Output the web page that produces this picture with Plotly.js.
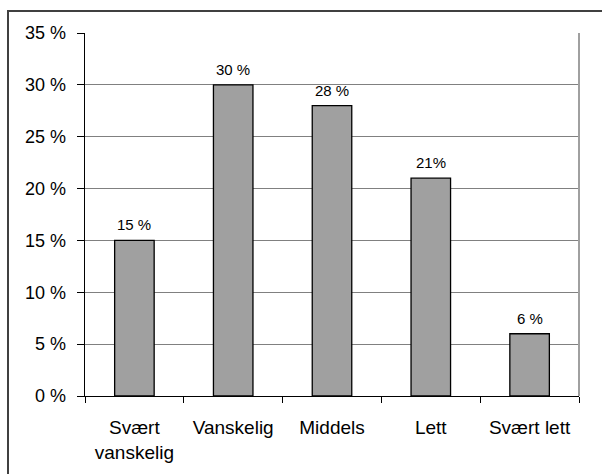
<!DOCTYPE html>
<html>
<head>
<meta charset="utf-8">
<script src="https://cdn.plot.ly/plotly-3.0.1.min.js"></script>
<style>
html,body{margin:0;padding:0;background:#fff;}
#chart{width:593px;height:462px;margin-left:7px;margin-top:10px;border-left:2px solid #404040;border-top:2px solid #404040;box-sizing:content-box;}
</style>
</head>
<body>
<div id="chart"></div>
<script>
const categories = ["Svært<br>vanskelig", "Vanskelig", "Middels", "Lett", "Svært lett"];
const values = [15, 30, 28, 21, 6];
const valueLabels = ["15 %", "30 %", "28 %", "21%", "6 %"];
const yTicks = [0, 5, 10, 15, 20, 25, 30, 35];
const yTickLabels = ["0 %", "5 %", "10 %", "15 %", "20 %", "25 %", "30 %", "35 %"];

const font = "Liberation Sans, Arial, sans-serif";

const trace = {
  type: "bar",
  x: categories,
  y: values,
  marker: {color: "#a0a0a0", line: {color: "#000", width: 1.3}},
  hoverinfo: "none"
};

const annotations = categories.map((c, i) => ({
  x: c, y: values[i], xref: "x", yref: "y",
  text: valueLabels[i], showarrow: false,
  yanchor: "bottom", yshift: 5,
  font: {family: font, size: 15, color: "#000"}
}));

const layout = {
  width: 593, height: 462,
  margin: {l: 76, r: 23, t: 21, b: 78},
  paper_bgcolor: "#fff", plot_bgcolor: "#fff",
  showlegend: false,
  bargap: 0.6,
  font: {family: font, size: 18, color: "#000"},
  annotations: annotations,
  xaxis: {
    type: "category",
    showline: true, linecolor: "#000", linewidth: 1.3,
    ticks: "outside", tickson: "boundaries", ticklen: 6, tickcolor: "#000", tickwidth: 1,
    showgrid: false,
    tickfont: {family: font, size: 19, color: "#000"},
    ticklabelstandoff: 14
  },
  yaxis: {
    range: [0, 35],
    tickvals: yTicks, ticktext: yTickLabels,
    showline: true, linecolor: "#000", linewidth: 1.3,
    ticks: "outside", ticklen: 7, tickcolor: "#000", tickwidth: 1,
    showgrid: true, gridcolor: "#808080", gridwidth: 1,
    zeroline: false,
    tickfont: {family: font, size: 18, color: "#000"},
    ticklabelstandoff: 7
  },
  shapes: [
    {type: "line", xref: "paper", yref: "paper", x0: 1, x1: 1, y0: 0, y1: 1, line: {color: "#a0a0a0", width: 2}}
  ]
};

Plotly.newPlot("chart", [trace], layout, {staticPlot: true, displayModeBar: false});
</script>
</body>
</html>
